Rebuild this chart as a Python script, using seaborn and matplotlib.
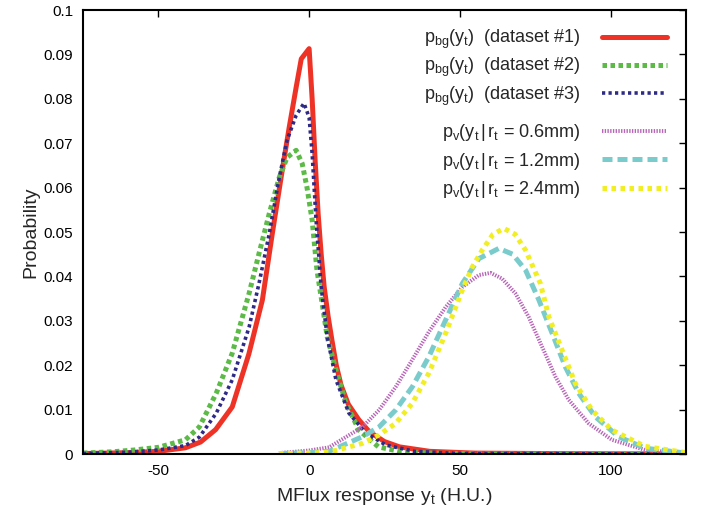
import matplotlib
matplotlib.use("Agg")
import matplotlib.pyplot as plt
import seaborn as sns
import pandas as pd

# ---------------- data ----------------
x_bg1 = [-75, -60, -50, -41, -36, -31, -25.5, -20, -15.5, -12.2, -8.9, -6.6, -4.3, -2.6, 0,
         1.0, 2.0, 3.0, 4.0, 5.0, 6.3, 7.6, 9.0, 10.6, 13, 16.5, 20, 25, 30, 40, 55, 80, 125]
y_bg1 = [0.0001, 0.0003, 0.0006, 0.0014, 0.0027, 0.0055, 0.0106, 0.0225, 0.0347, 0.0497, 0.064,
         0.0736, 0.0826, 0.089, 0.0913,
         0.080, 0.066, 0.054, 0.045, 0.0376, 0.031, 0.0255, 0.020, 0.0155, 0.0112, 0.0077, 0.005,
         0.0028, 0.0016, 0.0006, 0.0002, 0.0001, 0.0]

x_bg2 = [-75, -65, -58, -50, -41, -36.4, -30.8, -25.5, -19.9, -16.6, -13.2, -9.9, -7.3, -4.3,
         -2.3, -0.7, 1, 2.6, 4.3, 6, 8.9, 12.2, 16.5, 23, 30, 40, 60, 125]
y_bg2 = [0.0002, 0.0005, 0.0009, 0.0015, 0.0032, 0.0061, 0.0137, 0.0227, 0.0362, 0.0452, 0.0542,
         0.0623, 0.0668, 0.0684, 0.0654, 0.060, 0.0527, 0.0414, 0.034, 0.0264, 0.0189, 0.0115,
         0.0054, 0.0016, 0.0006, 0.0002, 0.0, 0.0]

x_bg3 = [-75, -60, -50, -41, -36.4, -30.8, -25.5, -19.9, -16.6, -13.2, -9.9, -7.3, -4.3, -1.7,
         0, 1, 2.3, 4, 6, 8.9, 13.2, 18.9, 25.5, 35, 50, 125]
y_bg3 = [0.0001, 0.0004, 0.0009, 0.0019, 0.0038, 0.0092, 0.0167, 0.0286, 0.0385, 0.0497, 0.0623,
         0.0707, 0.0763, 0.079, 0.0758, 0.0677, 0.0527, 0.0376, 0.0264, 0.0167, 0.0092, 0.0047,
         0.002, 0.0006, 0.0001, 0.0]

x_v06 = [-10, 0, 6.6, 17.7, 23.2, 28.7, 34.2, 39.7, 45.3, 50.8, 56.3, 60.2, 64, 68.4, 72.8, 77.3,
         81.7, 86.1, 92.7, 100.4, 111.5, 125]
y_v06 = [0.0002, 0.0008, 0.0015, 0.0061, 0.0099, 0.0151, 0.0212, 0.0275, 0.0331, 0.0376, 0.0403,
         0.0408, 0.0395, 0.0362, 0.0309, 0.0241, 0.0174, 0.0122, 0.0069, 0.0032, 0.0009, 0.0001]

x_v12 = [-10, 0, 6.6, 17.7, 23.2, 28.7, 34.2, 39.7, 45.3, 50.8, 56.3, 62.9, 67.5, 71.8, 76.2, 80.6,
         85, 89.4, 94.9, 102.6, 111.5, 125]
y_v12 = [0.0001, 0.0003, 0.0006, 0.0039, 0.0061, 0.0099, 0.0151, 0.0219, 0.0302, 0.0384, 0.044,
         0.0463, 0.0450, 0.0414, 0.0347, 0.0272, 0.0196, 0.0137, 0.0084, 0.0039, 0.0013, 0.0002]

x_v24 = [-10, 0, 6.6, 17.7, 23.2, 28.7, 34.2, 39.7, 45.3, 50.8, 54.1, 57.4, 61, 64.6, 68.3, 71.8,
         76.7, 79.5, 83.9, 88.3, 93.8, 100.4, 111.5, 125]
y_v24 = [0.0001, 0.0002, 0.0004, 0.0024, 0.0043, 0.0069, 0.0114, 0.0182, 0.0272, 0.0369, 0.0421,
         0.0459, 0.0495, 0.0508, 0.0495, 0.0459, 0.0384, 0.0309, 0.0234, 0.0159, 0.0099, 0.0054,
         0.0017, 0.0003]

labels = [r'$\mathregular{p_{bg}(y_t)}$  (dataset #1)',
          r'$\mathregular{p_{bg}(y_t)}$  (dataset #2)',
          r'$\mathregular{p_{bg}(y_t)}$  (dataset #3)',
          r'$\mathregular{p_v(y_t\,|\,r_t}$ = 0.6mm)',
          r'$\mathregular{p_v(y_t\,|\,r_t}$ = 1.2mm)',
          r'$\mathregular{p_v(y_t\,|\,r_t}$ = 2.4mm)']

x_ticks = [-50, 0, 50, 100]
y_ticks = [0, 0.01, 0.02, 0.03, 0.04, 0.05, 0.06, 0.07, 0.08, 0.09, 0.1]
y_ticklabels = ["0", "0.01", "0.02", "0.03", "0.04", "0.05", "0.06", "0.07", "0.08", "0.09", "0.1"]

# ---------------- style ----------------
sns.set_theme(style="white")
plt.rcParams['font.family'] = ['Liberation Sans', 'DejaVu Sans']
plt.rcParams['mathtext.fontset'] = 'custom'
plt.rcParams['mathtext.rm'] = 'Liberation Sans'
plt.rcParams['mathtext.it'] = 'Liberation Sans'

fig = plt.figure(figsize=(7.08, 5.13), dpi=100)
ax = fig.add_axes([83 / 708, 59 / 513, (686 - 83) / 708, (454 - 10) / 513])

series = [
    (x_bg1, y_bg1, "#ee3326", 3.6, '-'),
    (x_bg2, y_bg2, "#5cba47", 3.6, (0, (0.9, 0.7))),
    (x_bg3, y_bg3, "#2e2a86", 2.6, (0, (0.9, 0.9))),
    (x_v06, y_v06, "#b865b8", 2.8, (0, (0.35, 0.35))),
    (x_v12, y_v12, "#7acccc", 3.6, (0, (2.0, 1.0))),
    (x_v24, y_v24, "#f2ee24", 3.6, (0, (0.9, 0.9))),
]

handles = []
for (xs, ys, c, lw, ls), lab in zip(series, labels):
    df = pd.DataFrame({"x": xs, "y": ys})
    sns.lineplot(data=df, x="x", y="y", color=c, lw=lw, linestyle=ls, ax=ax,
                 estimator=None, sort=False, label=lab, legend=False)
    handles.append(ax.get_lines()[-1])

ax.set_xlim(-75, 125)
ax.set_ylim(0, 0.1)
ax.set_xticks(x_ticks)
ax.set_xticklabels([str(t) for t in x_ticks])
ax.set_yticks(y_ticks)
ax.set_yticklabels(y_ticklabels)
ax.tick_params(direction='in', length=5, width=1, top=True, right=True,
               labelsize=11, colors='black', pad=7)
for s in ax.spines.values():
    s.set_color('black')
    s.set_linewidth(1.5)
ax.set_xlabel(r'MFlux response $\mathregular{y_t}$ (H.U.)', fontsize=14, labelpad=6)
ax.set_ylabel('Probability', fontsize=14, labelpad=3)

leg_kw = dict(loc='upper right', frameon=False, markerfirst=False, fontsize=13,
              handlelength=3.6, handletextpad=1.2, borderaxespad=0, borderpad=0.2)
leg1 = ax.legend(handles=handles[:3], labels=labels[:3], bbox_to_anchor=(0.975, 0.968),
                 labelspacing=0.28, **leg_kw)
ax.add_artist(leg1)
leg2 = ax.legend(handles=handles[3:], labels=labels[3:], bbox_to_anchor=(0.975, 0.755),
                 labelspacing=0.4, **leg_kw)

fig.savefig("out.png", dpi=100)
